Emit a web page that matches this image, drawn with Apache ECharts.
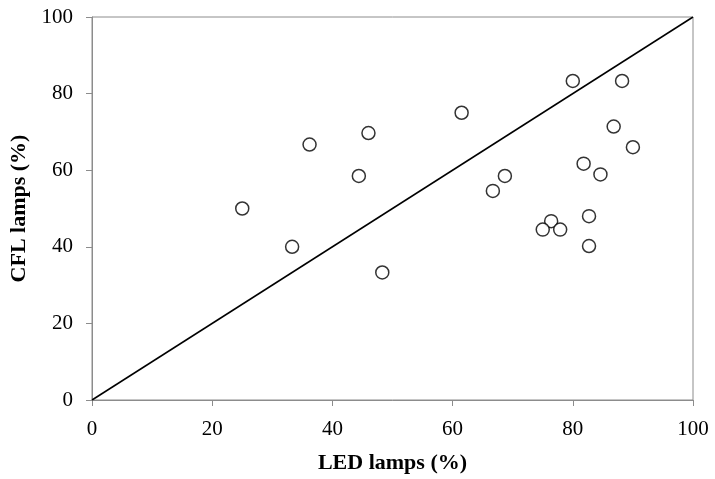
<!DOCTYPE html>
<html>
<head>
<meta charset="utf-8">
<script src="https://cdn.jsdelivr.net/npm/echarts@6/dist/echarts.min.js"></script>
<style>html,body{margin:0;padding:0;background:#fff}#c{width:715px;height:479px}</style>
</head>
<body>
<div id="c"></div>
<script>
const ledValues = [25, 36.2, 33.3, 44.4, 46, 48.3, 61.5, 80, 88.2, 86.8, 90, 81.8, 84.6, 68.7, 66.7, 76.4, 75, 77.9, 82.7, 82.7];
const cflValues = [50, 66.7, 40, 58.5, 69.7, 33.3, 75, 83.3, 83.3, 71.4, 66, 61.7, 58.9, 58.5, 54.6, 46.7, 44.5, 44.5, 48, 40.2];
const refLine = [[0, 0], [100, 100]];
const xTitle = 'LED lamps (%)';
const yTitle = 'CFL lamps (%)';

const font = "'Liberation Serif', 'Times New Roman', serif";
const pts = ledValues.map((v, i) => [v, cflValues[i]]);
const chart = echarts.init(document.getElementById('c'));
const axisCommon = {
  type: 'value', min: 0, max: 100, interval: 20,
  splitLine: { show: false },
  axisLine: { show: true, lineStyle: { color: '#8c8c8c', width: 1 } },
  axisTick: { show: true, inside: false, length: 6, lineStyle: { color: '#8c8c8c' } },
  axisLabel: { color: '#000', fontFamily: font, fontSize: 21 },
  nameLocation: 'middle',
  nameTextStyle: { color: '#000', fontFamily: font, fontSize: 22, fontWeight: 'bold' }
};
chart.setOption({
  animation: false,
  grid: { left: 92, right: 22, top: 17, bottom: 77, show: true, borderColor: '#8c8c8c', borderWidth: 1 },
  xAxis: Object.assign({}, axisCommon, { name: xTitle, nameGap: 52, axisLabel: Object.assign({}, axisCommon.axisLabel, { margin: 19 }) }),
  yAxis: Object.assign({}, axisCommon, { name: yTitle, nameGap: 57, axisLabel: Object.assign({}, axisCommon.axisLabel, { margin: 19 }) }),
  series: [
    { type: 'line', data: refLine, symbol: 'none', lineStyle: { color: '#000', width: 1.5 }, z: 1 },
    { type: 'scatter', data: pts, symbol: 'circle', symbolSize: 13,
      itemStyle: { color: '#fff', borderColor: '#000', borderWidth: 1.5 }, z: 2 }
  ]
});
</script>
</body>
</html>
